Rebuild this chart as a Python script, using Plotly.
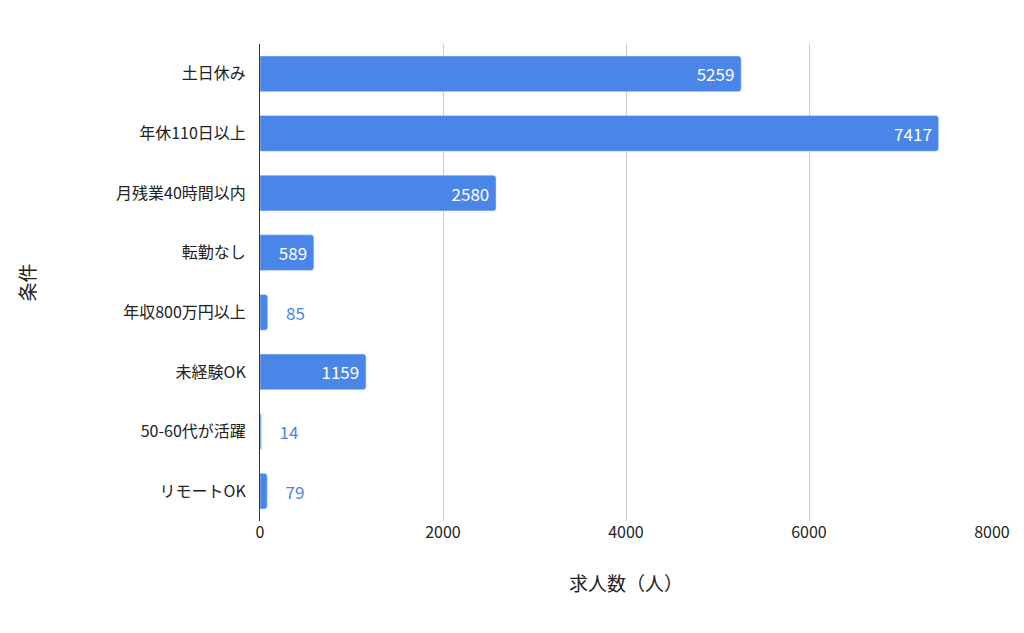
import plotly.graph_objects as go

categories = ['土日休み', '年休110日以上', '月残業40時間以内', '転勤なし',
              '年収800万円以上', '未経験OK', '50-60代が活躍', 'リモートOK']
counts = [5259, 7417, 2580, 589, 85, 1159, 14, 79]

bar_color = '#4a86e8'
positions = ['inside' if v >= 500 else 'outside' for v in counts]
text_colors = ['white' if v >= 500 else bar_color for v in counts]
labels = [str(v) + ' ' if v >= 500 else '    ' + str(v) for v in counts]

fig = go.Figure()
fig.add_trace(go.Bar(
    x=counts,
    y=categories,
    orientation='h',
    marker=dict(color=bar_color, cornerradius=3),
    width=0.6,
    text=labels,
    textposition=positions,
    insidetextanchor='end',
    textfont=dict(size=17, color=text_colors),
    cliponaxis=False,
))

fig.update_layout(
    width=1024, height=633,
    plot_bgcolor='white', paper_bgcolor='white',
    margin=dict(l=252, r=40, t=36, b=120),
    font=dict(family='Noto Sans CJK JP', size=16, color='#222'),
    showlegend=False,
)
fig.update_xaxes(range=[0, 8000], tickvals=[0, 2000, 4000, 6000, 8000],
                 showgrid=True, gridcolor='#cccccc', zeroline=False,
                 title=dict(text='求人数（人）', standoff=35),
                 tickfont=dict(size=16))
fig.update_yaxes(autorange='reversed', showline=True, linecolor='#333', linewidth=1,
                 ticks='', ticklabelstandoff=10,
                 title=dict(text='条件', standoff=75),
                 tickfont=dict(size=16))

fig.write_html('out.html')
